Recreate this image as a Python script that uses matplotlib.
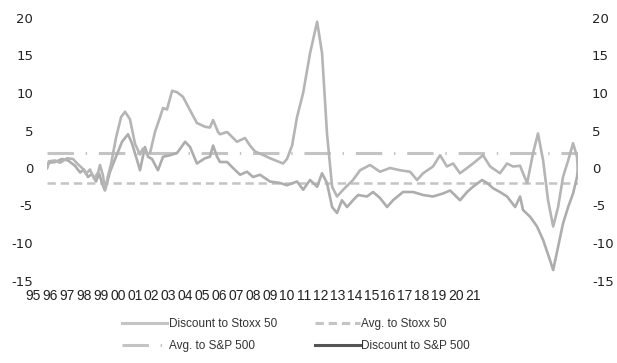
import numpy as np
import matplotlib
matplotlib.use("Agg")
import matplotlib.pyplot as plt
from matplotlib.lines import Line2D

plt.rcParams["lines.scale_dashes"] = False
plt.rcParams["axes.unicode_minus"] = False

# x tick labels (two-digit years)
year_labels = ["95", "96", "97", "98", "99", "00", "01", "02", "03", "04", "05", "06", "07",
               "08", "09", "10", "11", "12", "13", "14", "15", "16", "17", "18", "19", "20", "21"]

# discount to S&P 500 (upper line)
sp_years = np.array([
    1995.00, 1995.10, 1995.41, 1995.66, 1996.02, 1996.32, 1996.57, 1996.78, 1996.98, 1997.18,
    1997.39, 1997.59, 1997.69, 1997.84, 1997.94, 1998.10, 1998.25, 1998.50, 1998.76, 1998.96,
    1999.21, 1999.47, 1999.72, 1999.87, 2000.08, 2000.23, 2000.48, 2000.74, 2000.89, 2001.09,
    2001.35, 2001.60, 2001.90, 2002.26, 2002.61, 2003.02, 2003.27, 2003.43, 2003.68, 2003.78,
    2004.14, 2004.64, 2005.05, 2005.30, 2005.56, 2005.91, 2006.32, 2006.98, 2007.18, 2007.44,
    2007.69, 2008.00, 2008.35, 2008.71, 2008.96, 2009.21, 2009.47, 2009.72, 2010.03, 2010.53,
    2010.89, 2011.40, 2011.90, 2012.41, 2012.92, 2013.43, 2013.78, 2014.09, 2014.59, 2014.95,
    2015.30, 2015.61, 2015.96, 2016.32, 2016.62, 2017.13, 2017.49, 2017.99, 2018.35, 2018.65,
    2019.01, 2019.16, 2019.37, 2019.67, 2019.92, 2020.18, 2020.43, 2020.69, 2020.94, 2021.19,
    2021.45, 2021.70, 2021.90, 2021.95])
sp_disc = np.array([
    0.0, 0.9, 1.0, 0.7, 1.3, 1.2, 0.5, 0.0, -0.8, -0.2,
    -1.4, -0.6, 0.4, -1.0, -2.9, -1.0, 0.5, 4.0, 6.8, 7.5,
    6.5, 3.2, 1.8, 2.6, 1.8, 2.0, 4.8, 6.8, 8.0, 7.8,
    10.3, 10.1, 9.5, 7.7, 6.0, 5.5, 5.4, 6.4, 4.8, 4.5,
    4.8, 3.5, 4.0, 3.0, 2.2, 1.8, 1.3, 0.6, 1.2, 3.0,
    6.8, 10.0, 15.3, 19.5, 15.3, 4.6, -2.5, -3.8, -2.9, -1.6,
    -0.3, 0.4, -0.5, 0.0, -0.3, -0.5, -1.6, -0.7, 0.2, 1.7,
    0.2, 0.6, -0.7, 0.0, 0.6, 1.7, 0.2, -0.7, 0.6, 0.2,
    0.3, -0.7, -2.0, 2.0, 4.6, 1.0, -4.3, -7.8, -5.2, -1.2,
    1.0, 3.3, 1.5, -0.7])

# discount to Stoxx 50 (lower line)
stoxx_years = np.array([
    1995.00, 1995.10, 1995.41, 1995.76, 1996.07, 1996.42, 1996.68, 1996.88, 1997.08, 1997.28,
    1997.49, 1997.64, 1997.79, 1997.94, 1998.20, 1998.50, 1998.81, 1999.11, 1999.31, 1999.52,
    1999.72, 1999.97, 2000.13, 2000.33, 2000.63, 2000.89, 2001.24, 2001.60, 2002.01, 2002.26,
    2002.61, 2003.02, 2003.27, 2003.43, 2003.63, 2003.78, 2004.14, 2004.44, 2004.80, 2005.15,
    2005.46, 2005.81, 2006.32, 2006.83, 2007.18, 2007.69, 2008.00, 2008.35, 2008.71, 2008.96,
    2009.21, 2009.47, 2009.72, 2009.97, 2010.23, 2010.53, 2010.79, 2011.24, 2011.55, 2011.90,
    2012.26, 2012.56, 2013.07, 2013.58, 2014.09, 2014.59, 2015.10, 2015.46, 2015.96, 2016.32,
    2016.62, 2017.08, 2017.34, 2017.64, 2017.99, 2018.35, 2018.76, 2019.01, 2019.16, 2019.52,
    2019.87, 2020.18, 2020.53, 2020.69, 2020.94, 2021.19, 2021.45, 2021.70, 2021.90, 2021.95])
stoxx_disc = np.array([
    0.0, 0.7, 0.8, 1.2, 1.0, 0.3, -0.6, -0.2, -1.2, -0.8,
    -1.8, -0.7, -2.0, -3.0, -0.5, 1.5, 3.5, 4.5, 3.3, 1.5,
    -0.3, 2.8, 1.5, 1.2, -0.3, 1.5, 1.7, 2.0, 3.5, 2.8,
    0.6, 1.3, 1.5, 3.0, 1.5, 0.8, 0.8, 0.0, -0.9, -0.5,
    -1.2, -0.9, -1.8, -2.0, -2.3, -1.8, -2.9, -1.6, -2.5, -0.7,
    -2.0, -5.2, -6.0, -4.3, -5.2, -4.3, -3.6, -3.8, -3.2, -4.0,
    -5.2, -4.3, -3.2, -3.2, -3.6, -3.8, -3.4, -3.0, -4.3, -3.2,
    -2.5, -1.6, -2.0, -2.7, -3.2, -3.8, -5.2, -3.8, -5.6, -6.5,
    -7.8, -9.6, -12.3, -13.6, -10.5, -7.4, -5.2, -3.4, -1.2, 0.0])

avg_sp = 2.0
avg_stoxx = -2.0

W, H = 617, 363
fig = plt.figure(figsize=(W / 100, H / 100), dpi=100)
ax = fig.add_axes([47 / W, 1 - 280.5 / H, 531 / W, 262.5 / H])

# averages
ax.axhline(avg_sp, color="#c4c4c4", lw=2.2, dashes=(19, 8.5, 1, 8.5), zorder=1)
ax.axhline(avg_stoxx, color="#c4c4c4", lw=1.8, dashes=(6, 3.5), zorder=1)

ax.plot(stoxx_years, stoxx_disc, color="#adadad", lw=1.9, zorder=2)
ax.plot(sp_years, sp_disc, color="#b5b5b5", lw=1.9, zorder=2)

ax.set_xlim(1995, 2021.95)
ax.set_ylim(-15, 20)
ax.set_yticks(np.arange(-15, 21, 5))
ax.set_xticks([])
ax.tick_params(axis="y", length=0, labelleft=True, labelright=True, pad=10,
               labelsize=9.5, labelcolor="#222222")
for s in ax.spines.values():
    s.set_visible(False)

# year labels sit on their own strip (they are offset from the data in the original)
lab = fig.add_axes([25.05 / W, 1 - 289 / H, 455.9 / W, 0.001])
lab.set_xlim(-0.5, 26.5)
lab.set_xticks(range(len(year_labels)))
lab.set_xticklabels(year_labels, fontfamily="Liberation Sans", fontsize=10, color="#222222")
lab.tick_params(axis="x", length=0, pad=0)
lab.set_yticks([])
lab.patch.set_alpha(0)
for s in lab.spines.values():
    s.set_visible(False)

# legend, filled row by row
handles = [
    Line2D([], [], color="#c4c4c4", lw=2.2),
    Line2D([], [], color="#c4c4c4", lw=2.2, dashes=(19, 8.5, 1, 8.5)),
    Line2D([], [], color="#c4c4c4", lw=2.2, dashes=(6, 3.5)),
    Line2D([], [], color="#555555", lw=2.2),
]
labels = ["Discount to Stoxx 50", "Avg. to S&P 500", "Avg. to Stoxx 50", "Discount to S&P 500"]
leg = fig.legend(handles, labels, loc="upper left", bbox_to_anchor=(122 / W, 1 - 318 / H),
                 ncol=2, frameon=False, prop={"family": "Liberation Sans", "size": 8.5},
                 handlelength=3.8, handletextpad=0.15, columnspacing=3.2, labelspacing=0.85,
                 borderpad=0, borderaxespad=0)
for t in leg.get_texts():
    t.set_color("#333333")

fig.savefig("out.png", dpi=100)
